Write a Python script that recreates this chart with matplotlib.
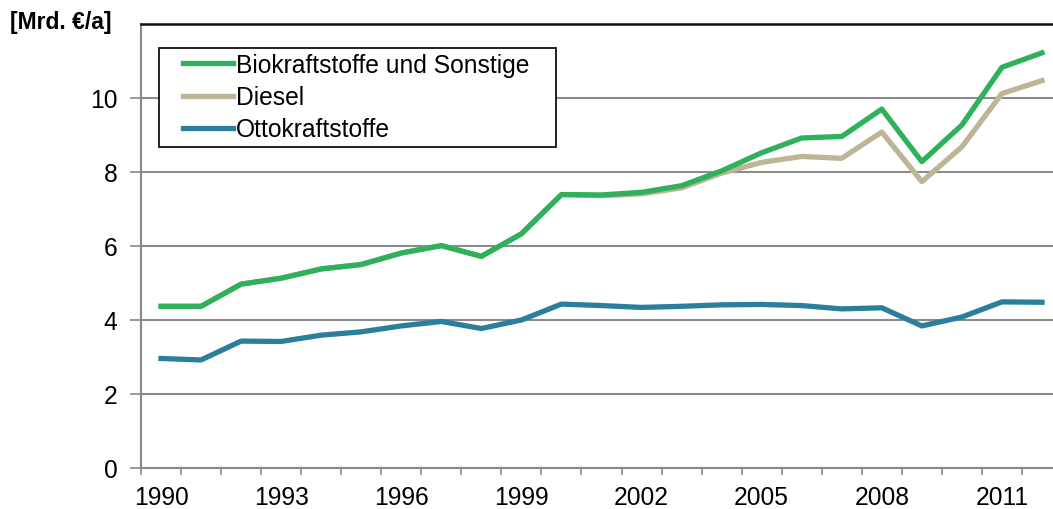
import matplotlib
matplotlib.use("Agg")
from matplotlib import pyplot
from matplotlib.patches import Rectangle
import numpy as np

pyplot.rcParams['font.family'] = ['Liberation Sans', 'DejaVu Sans']

# Daten (Mrd. Euro pro Jahr)
years = list(range(1990, 2013))
bio_sonstige = [4.37, 4.37, 4.97, 5.13, 5.38, 5.50, 5.81, 6.01, 5.72, 6.33,
                7.39, 7.38, 7.45, 7.63, 8.03, 8.52, 8.92, 8.96, 9.70, 8.28,
                9.27, 10.83, 11.22]
diesel = [4.37, 4.37, 4.97, 5.13, 5.38, 5.50, 5.81, 6.01, 5.72, 6.33,
          7.39, 7.36, 7.41, 7.57, 7.97, 8.26, 8.42, 8.37, 9.08, 7.74,
          8.68, 10.12, 10.47]
otto = [2.96, 2.92, 3.43, 3.42, 3.59, 3.68, 3.84, 3.96, 3.77, 4.00,
        4.43, 4.39, 4.34, 4.37, 4.41, 4.42, 4.39, 4.30, 4.33, 3.84,
        4.08, 4.49, 4.48]
year_labels = [str(y) for y in years[::3]]

W, H = 1053, 510
fig = pyplot.figure(figsize=(W/100, H/100), dpi=100)
ax = fig.add_axes([141/W, 41/H, 921/W, 444/H])

x = np.arange(len(years))
ax.plot(x, diesel, color='#bdb596', linewidth=3.8, label='Diesel', zorder=3)
ax.plot(x, bio_sonstige, color='#2eb15a', linewidth=3.8,
        label='Biokraftstoffe und Sonstige', zorder=4)
ax.plot(x, otto, color='#2b7f9c', linewidth=3.8, label='Ottokraftstoffe', zorder=3)

# Achsen
ax.set_xlim(-0.5, len(years) - 0.5)
ax.set_ylim(0, 12)
ax.set_yticks([0, 2, 4, 6, 8, 10])
ax.set_xticks(x[::3])
ax.set_xticklabels(year_labels)
ax.set_xticks(np.arange(-0.5, len(years), 1), minor=True)
ax.tick_params(axis='x', which='major', length=0, labelsize=17.7, pad=12)
ax.tick_params(axis='x', which='minor', length=5, width=1.2, color='#888888')
ax.tick_params(axis='y', length=8, width=1.2, color='#888888', labelsize=17.7, pad=9)

ax.grid(axis='y', color='#8c8c8c', linewidth=1.5, zorder=1)
ax.set_axisbelow(True)
ax.spines['right'].set_visible(False)
ax.spines['top'].set_color('#111111')
ax.spines['top'].set_linewidth(1.8)
for s in ['left', 'bottom']:
    ax.spines[s].set_color('#888888')
    ax.spines[s].set_linewidth(1.5)

# Einheit
fig.text(61/W, 1 - 22/H, '[Mrd. €/a]', fontsize=16.5, fontweight='bold',
         ha='center', va='center')

# Legende: Rahmen separat, da horizontal mehr Abstand als vertikal
frame = Rectangle((159/W, 1 - 148/H), 397/W, 99/H, transform=fig.transFigure,
                  facecolor='white', edgecolor='#111111', linewidth=1.3,
                  zorder=5, clip_on=False)
ax.add_patch(frame)
handles, labels = ax.get_legend_handles_labels()
order = [1, 0, 2]
leg = ax.legend([handles[i] for i in order], [labels[i] for i in order],
                loc='upper left', bbox_to_anchor=(183/W, 1 - 54/H),
                bbox_transform=fig.transFigure, fontsize=17.7, frameon=False,
                handlelength=2.05, handletextpad=0.12, borderpad=0,
                labelspacing=0.33, borderaxespad=0)
leg.set_zorder(6)

fig.savefig('out.png')
